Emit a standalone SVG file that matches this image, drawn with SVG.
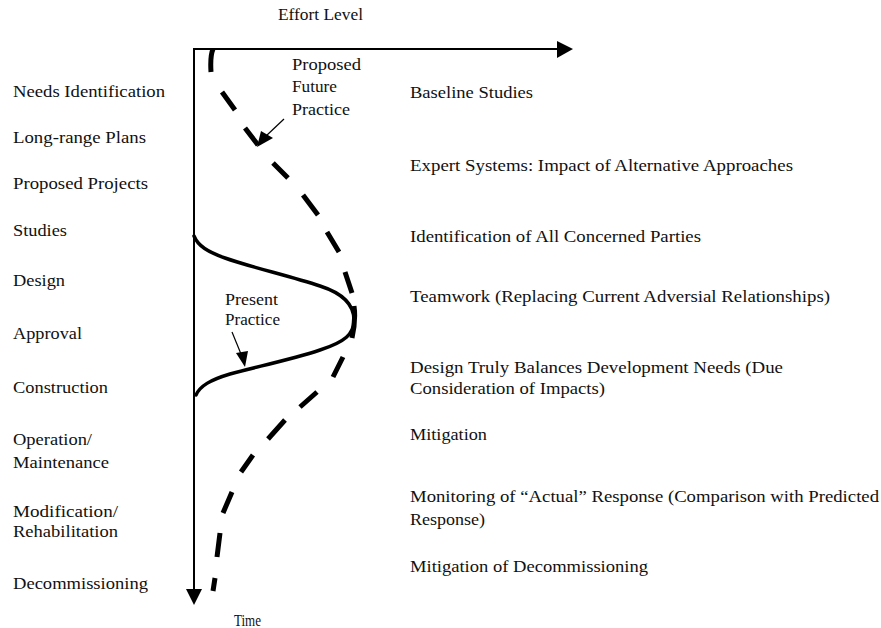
<svg xmlns="http://www.w3.org/2000/svg" width="881" height="628" viewBox="0 0 881 628">
<style>
text{font-family:"Liberation Serif","Times New Roman",serif;font-size:16px;fill:#111}
.ax{stroke:#000;stroke-width:2;fill:none}
.head{fill:#000;stroke:none}
.solid{stroke:#000;stroke-width:3.5;fill:none;stroke-linecap:round}
.dash{stroke:#000;stroke-width:5;fill:none;stroke-linecap:butt}
.ptr{stroke:#000;stroke-width:1.2;fill:none}
</style>
<rect width="881" height="628" fill="#fff"/>
<g id="axes">
  <line class="ax" x1="194" y1="49" x2="560" y2="49"/>
  <polygon class="head" points="557,41 573,49 557,58"/>
  <line class="ax" x1="194" y1="48" x2="194" y2="592"/>
  <polygon class="head" points="186,589 202,589 194,605"/>
  <text x="278" y="20" textLength="85" lengthAdjust="spacingAndGlyphs">Effort Level</text>
  <text x="234" y="626" textLength="27" lengthAdjust="spacingAndGlyphs">Time</text>
</g>
<g id="connectors">
  <path id="present-curve" class="solid" d="M194,236 C198,246 208,252 225,258 C250,267 290,276 320,286 C345,294 354,306 354,320 C354,334 345,342 320,350 C290,360 255,367 230,374 C210,380 200,386 196,395"/>
  <path id="future-curve" class="dash" d="M213,49 Q210,56 211,72 M222,92 L235,110 M245,128 L258,145 M273,163 L288,178 M303,195 L318,215 M327,232 L339,252 M345,272 L352,293 M354,306 Q356,320 352,338 M343,357 L333,377 M317,392 L300,407 M285,420 L268,439 M253,455 L241,472 M232,492 L223,513 M220,533 L217,557 M215,578 L213,591"/>
  <g id="future-pointer">
    <line class="ptr" x1="284" y1="119" x2="266" y2="136"/>
    <polygon class="head" points="261,131 273,138 257,147"/>
  </g>
  <g id="present-pointer">
    <line class="ptr" x1="232" y1="332" x2="241" y2="354"/>
    <polygon class="head" points="236,353 248,351 245,367"/>
  </g>
</g>
<g id="curve-labels">
  <g id="label-future">
    <text x="292" y="70" textLength="69" lengthAdjust="spacingAndGlyphs">Proposed</text>
    <text x="292" y="92" textLength="45" lengthAdjust="spacingAndGlyphs">Future</text>
    <text x="292" y="115" textLength="58" lengthAdjust="spacingAndGlyphs">Practice</text>
  </g>
  <g id="label-present">
    <text x="225" y="305" textLength="53" lengthAdjust="spacingAndGlyphs">Present</text>
    <text x="225" y="325" textLength="55" lengthAdjust="spacingAndGlyphs">Practice</text>
  </g>
</g>
<g id="phases">
  <g id="phase-needs"><text x="13" y="97" textLength="152" lengthAdjust="spacingAndGlyphs">Needs Identification</text></g>
  <g id="phase-longrange"><text x="13" y="143" textLength="133" lengthAdjust="spacingAndGlyphs">Long-range Plans</text></g>
  <g id="phase-proposed"><text x="13" y="189" textLength="135" lengthAdjust="spacingAndGlyphs">Proposed Projects</text></g>
  <g id="phase-studies"><text x="13" y="236" textLength="54" lengthAdjust="spacingAndGlyphs">Studies</text></g>
  <g id="phase-design"><text x="13" y="286" textLength="52" lengthAdjust="spacingAndGlyphs">Design</text></g>
  <g id="phase-approval"><text x="13" y="339" textLength="69" lengthAdjust="spacingAndGlyphs">Approval</text></g>
  <g id="phase-construction"><text x="13" y="393" textLength="95" lengthAdjust="spacingAndGlyphs">Construction</text></g>
  <g id="phase-operation">
    <text x="13" y="445" textLength="79" lengthAdjust="spacingAndGlyphs">Operation/</text>
    <text x="13" y="468" textLength="96" lengthAdjust="spacingAndGlyphs">Maintenance</text>
  </g>
  <g id="phase-modification">
    <text x="13" y="517" textLength="105" lengthAdjust="spacingAndGlyphs">Modification/</text>
    <text x="13" y="537" textLength="105" lengthAdjust="spacingAndGlyphs">Rehabilitation</text>
  </g>
  <g id="phase-decommissioning"><text x="13" y="589" textLength="135" lengthAdjust="spacingAndGlyphs">Decommissioning</text></g>
</g>
<g id="practices">
  <g id="prac-baseline"><text x="410" y="98" textLength="123" lengthAdjust="spacingAndGlyphs">Baseline Studies</text></g>
  <g id="prac-expert"><text x="410" y="171" textLength="383" lengthAdjust="spacingAndGlyphs">Expert Systems: Impact of Alternative Approaches</text></g>
  <g id="prac-identification"><text x="410" y="242" textLength="291" lengthAdjust="spacingAndGlyphs">Identification of All Concerned Parties</text></g>
  <g id="prac-teamwork"><text x="410" y="302" textLength="420" lengthAdjust="spacingAndGlyphs">Teamwork (Replacing Current Adversial Relationships)</text></g>
  <g id="prac-design">
    <text x="410" y="373" textLength="373" lengthAdjust="spacingAndGlyphs">Design Truly Balances Development Needs (Due</text>
    <text x="410" y="394" textLength="195" lengthAdjust="spacingAndGlyphs">Consideration of Impacts)</text>
  </g>
  <g id="prac-mitigation"><text x="410" y="440" textLength="77" lengthAdjust="spacingAndGlyphs">Mitigation</text></g>
  <g id="prac-monitoring">
    <text x="410" y="502" textLength="469" lengthAdjust="spacingAndGlyphs">Monitoring of “Actual” Response (Comparison with Predicted</text>
    <text x="410" y="525" textLength="75" lengthAdjust="spacingAndGlyphs">Response)</text>
  </g>
  <g id="prac-decommissioning"><text x="410" y="572" textLength="238" lengthAdjust="spacingAndGlyphs">Mitigation of Decommissioning</text></g>
</g>
</svg>
